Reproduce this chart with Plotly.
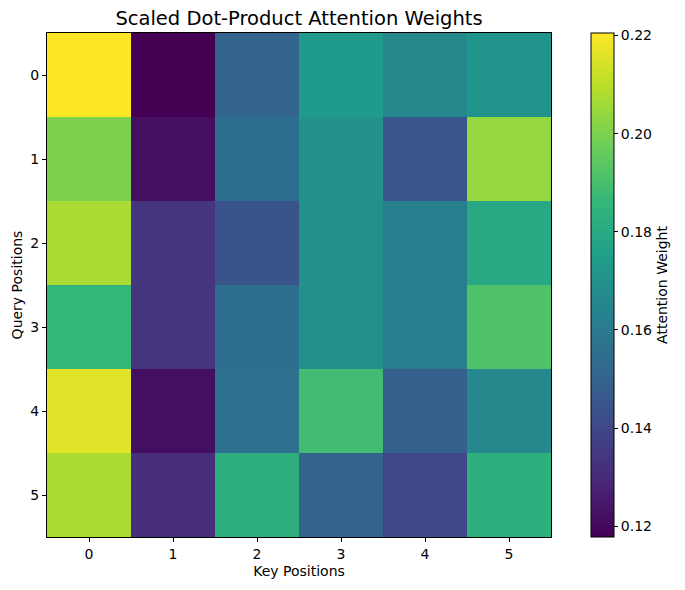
import plotly.graph_objects as go

keys = [0, 1, 2, 3, 4, 5]
queries = [0, 1, 2, 3, 4, 5]
weights = [
    [0.2205, 0.1178, 0.1507, 0.1733, 0.1660, 0.1712],
    [0.2000, 0.1220, 0.1548, 0.1700, 0.1455, 0.2040],
    [0.2071, 0.1332, 0.1445, 0.1692, 0.1620, 0.1794],
    [0.1856, 0.1332, 0.1548, 0.1692, 0.1620, 0.1917],
    [0.2159, 0.1219, 0.1558, 0.1887, 0.1486, 0.1660],
    [0.2071, 0.1312, 0.1825, 0.1505, 0.1404, 0.1825],
]
cb_ticks = [0.12, 0.14, 0.16, 0.18, 0.20, 0.22]

fig = go.Figure(go.Heatmap(
    z=weights, x=keys, y=queries,
    colorscale="Viridis", zmin=0.1178, zmax=0.2205,
    colorbar=dict(
        title=dict(text="Attention Weight", side="right", font=dict(size=14, color="black")),
        x=1.079, xanchor="left", xref="paper", xpad=0,
        y=0.5, yanchor="middle", len=1, lenmode="fraction", ypad=0,
        thickness=23, thicknessmode="pixels",
        outlinecolor="black", outlinewidth=1,
        tickvals=cb_ticks, ticktext=[f"{t:.2f}" for t in cb_ticks],
        ticks="outside", ticklen=4, tickcolor="black",
        tickfont=dict(size=14, color="black"),
    ),
))

fig.update_layout(
    width=685, height=590,
    margin=dict(l=47, r=134, t=33, b=53, autoexpand=False),
    paper_bgcolor="white", plot_bgcolor="white",
    font=dict(family="DejaVu Sans", color="black"),
    title=dict(text="Scaled Dot-Product Attention Weights", x=(47 + 551) / 2 / 685, xanchor="center",
               y=1 - 18 / 590, yanchor="middle", font=dict(size=19.5)),
    xaxis=dict(
        range=[-0.5, 5.5], tickvals=keys, ticks="outside", ticklen=4, tickcolor="black",
        showline=True, linecolor="black", linewidth=1, mirror=True, showgrid=False, zeroline=False,
        title=dict(text="Key Positions", font=dict(size=14), standoff=5),
        tickfont=dict(size=14),
    ),
    yaxis=dict(
        range=[5.5, -0.5], tickvals=queries, ticks="outside", ticklen=4, tickcolor="black",
        showline=True, linecolor="black", linewidth=1, mirror=True, showgrid=False, zeroline=False,
        title=dict(text="Query Positions", font=dict(size=14), standoff=4),
        tickfont=dict(size=14),
    ),
)

fig.write_html("out.html")
